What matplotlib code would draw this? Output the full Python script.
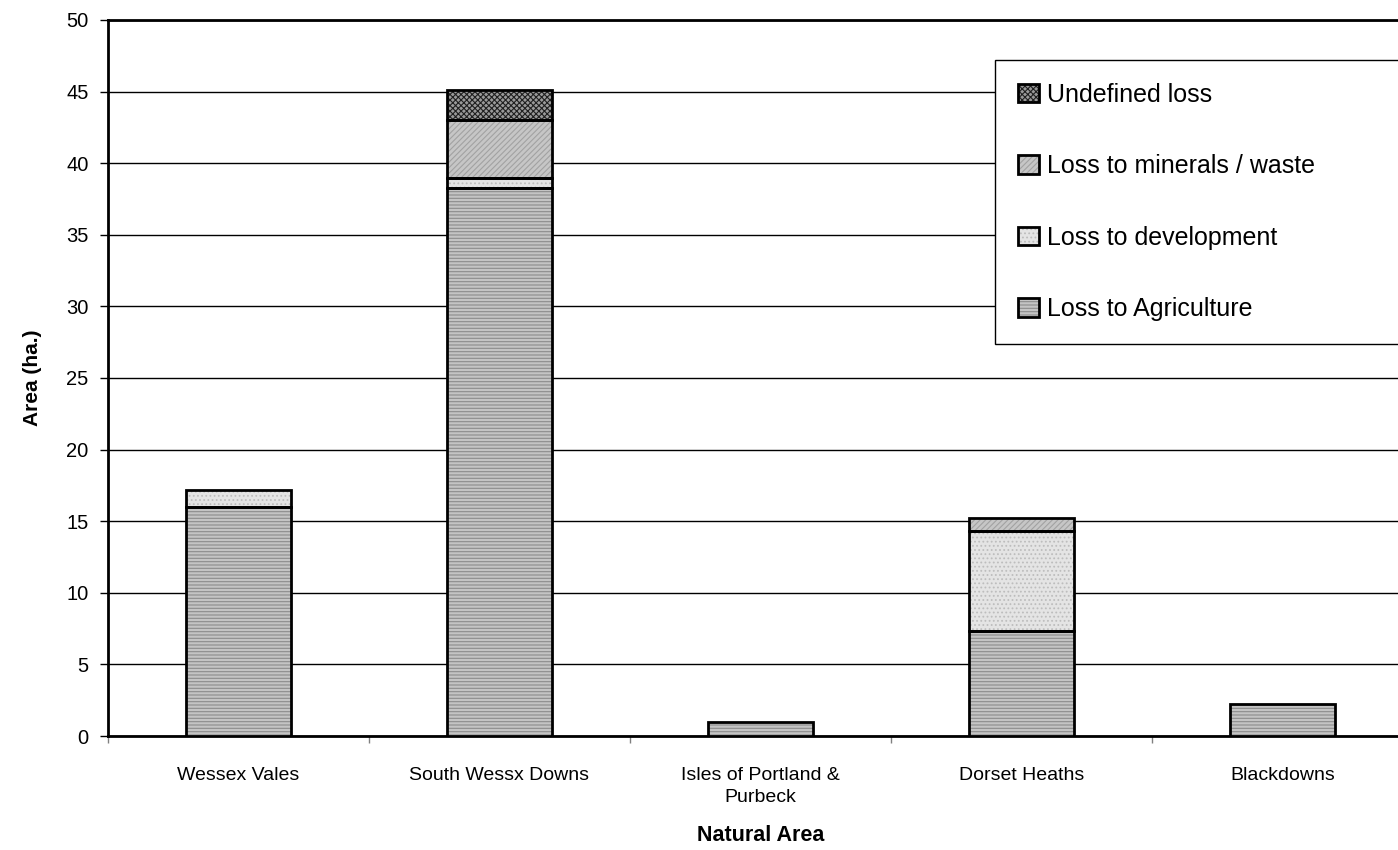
import matplotlib.pyplot as plt
from matplotlib.patches import Patch
import numpy as np

plt.rcParams['font.family'] = ['Liberation Sans', 'DejaVu Sans']
plt.rcParams['hatch.linewidth'] = 0.8

# data (ha.)
areas = ["Wessex Vales", "South Wessx Downs", "Isles of Portland &\nPurbeck",
         "Dorset Heaths", "Blackdowns"]
agriculture = [16.0, 38.3, 1.0, 7.3, 2.2]
development = [1.2, 0.7, 0.0, 7.0, 0.0]
minerals = [0.0, 4.0, 0.0, 0.9, 0.0]
undefined = [0.0, 2.1, 0.0, 0.0, 0.0]

series = [
    ("Loss to Agriculture", agriculture, "#c4c4c4", "-----", "#8c8c8c"),
    ("Loss to development", development, "#e4e4e4", "....", "#bdbdbd"),
    ("Loss to minerals / waste", minerals, "#c6c6c6", "//////", "#a2a2a2"),
    ("Undefined loss", undefined, "#9a9a9a", "xxxxxx", "#202020"),
]

W, H = 1398, 850
fig = plt.figure(figsize=(W / 100, H / 100), dpi=100)
ax = fig.add_axes([108 / W, 114 / H, 1305 / W, 716 / H])

x = np.arange(len(areas))
bottom = np.zeros(len(areas))
handles = []
for name, vals, face, hatch, hcol in series:
    vals = np.array(vals)
    # hatched fill, then a black outline on top
    ax.bar(x, vals, 0.4, bottom=bottom, color=face, hatch=hatch,
           edgecolor=hcol, linewidth=0, zorder=3)
    mask = vals > 0
    ax.bar(x[mask], vals[mask], 0.4, bottom=bottom[mask], facecolor="none",
           edgecolor="black", linewidth=2, zorder=4)
    bottom += vals
    p1 = Patch(facecolor=face, hatch=hatch, edgecolor=hcol, linewidth=0)
    p2 = Patch(facecolor="none", edgecolor="black", linewidth=2)
    handles.append(((p1, p2), name))

ax.set_xlim(-0.5, len(areas) - 0.5)
ax.set_ylim(0, 50)
ax.set_yticks(np.arange(0, 51, 5))
ax.yaxis.grid(True, color="black", linewidth=1)
ax.set_axisbelow(True)

ax.set_xticks(x)
ax.set_xticklabels(areas, fontsize=14, linespacing=1.45)
ax.set_xticks(np.arange(-0.5, len(areas)), minor=True)
ax.tick_params(axis="x", which="major", length=0, pad=22)
ax.tick_params(axis="x", which="minor", length=5, width=1, color="#808080")
ax.tick_params(axis="y", length=6, width=1, pad=8, labelsize=14.5)

for s in ["left", "top", "bottom"]:
    ax.spines[s].set_linewidth(2)
ax.spines["right"].set_visible(False)

ax.set_ylabel("Area (ha.)", fontsize=15, fontweight="bold")
ax.yaxis.set_label_coords(-0.0506, 0.5)
ax.set_xlabel("Natural Area", fontsize=15.5, fontweight="bold")
ax.xaxis.set_label_coords(0.5, -0.124)

handles = handles[::-1]
leg = ax.legend([h for h, _ in handles], [n for _, n in handles],
                loc="upper left", bbox_to_anchor=(0.680, 0.944, 0.32, 0.0),
                mode="expand", borderaxespad=0, fontsize=18,
                handlelength=0.85, handleheight=0.75, handletextpad=0.3,
                labelspacing=1.9, borderpad=0.9, fancybox=False,
                edgecolor="black", framealpha=1)
leg.get_frame().set_linewidth(1)
leg.set_zorder(5)

fig.savefig("out.png", dpi=100)
